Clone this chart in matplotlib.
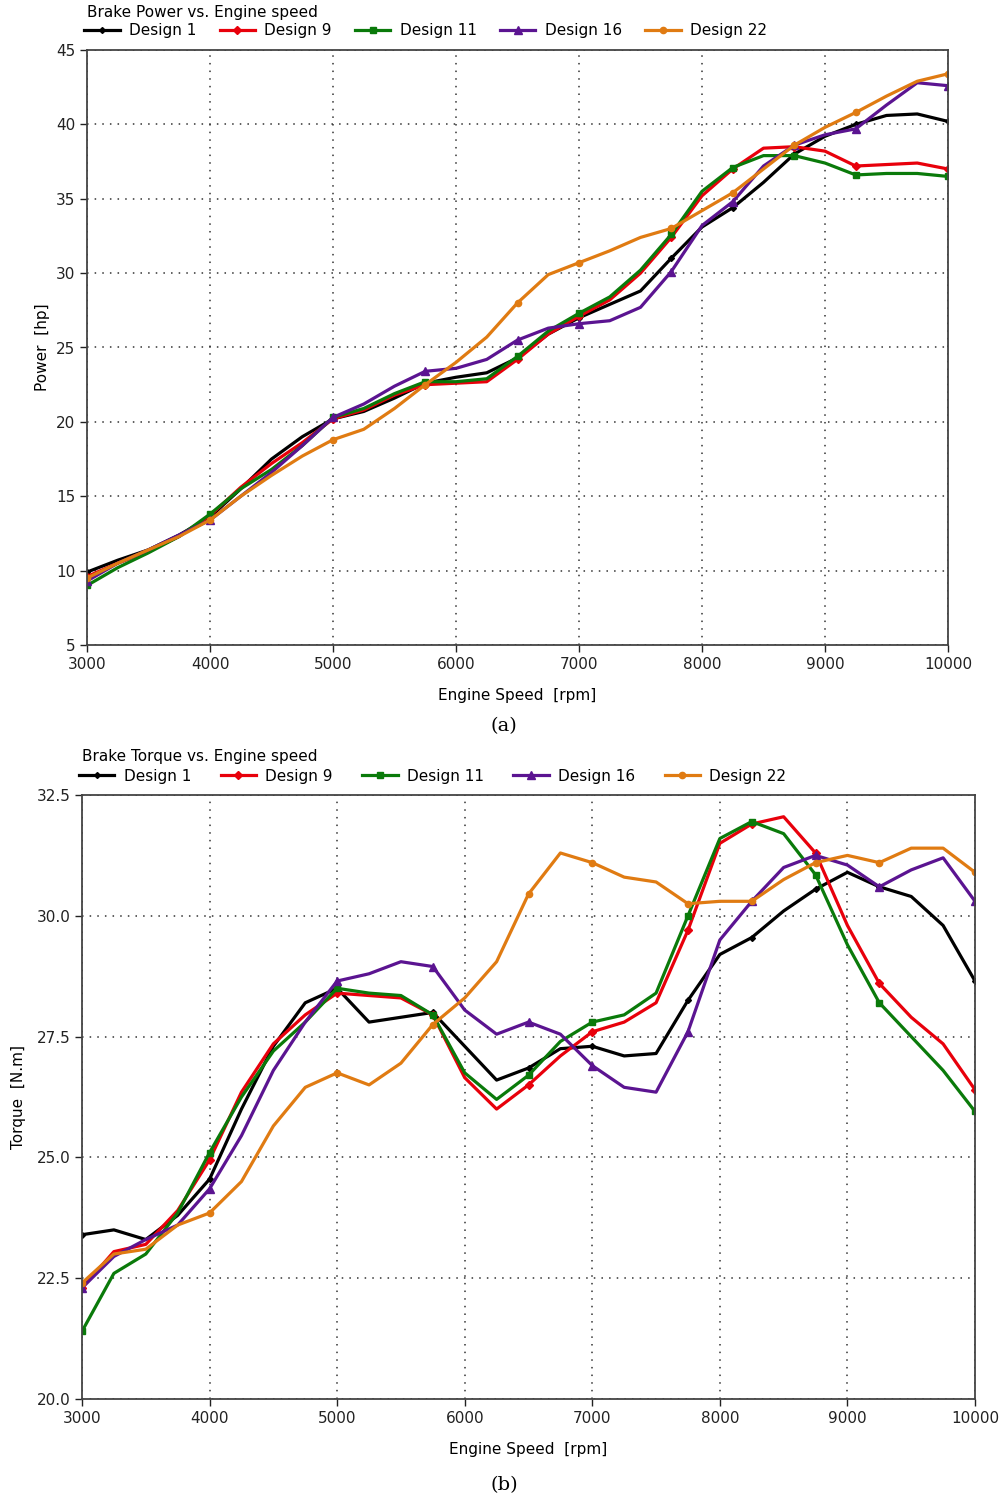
import numpy as np
import matplotlib
matplotlib.use('Agg')
import matplotlib.pyplot as plt

# engine speed samples (rpm)
rpm = np.arange(3000, 10001, 250)

# brake power [hp]
power_d1 = [9.9, 10.7, 11.4, 12.4, 13.6, 15.5, 17.5, 19.0, 20.2, 20.7, 21.6, 22.6, 23.0, 23.3, 24.3,
            25.9, 27.0, 27.9, 28.8, 31.0, 33.1, 34.4, 36.1, 38.0, 39.2, 40.0, 40.6, 40.7, 40.2]
power_d9 = [9.6, 10.5, 11.3, 12.3, 13.7, 15.6, 17.2, 18.6, 20.2, 20.8, 21.8, 22.5, 22.6, 22.7, 24.2,
            25.9, 27.1, 28.2, 30.0, 32.4, 35.2, 37.0, 38.4, 38.5, 38.2, 37.2, 37.3, 37.4, 37.0]
power_d11 = [9.0, 10.2, 11.2, 12.3, 13.8, 15.5, 16.8, 18.4, 20.3, 20.9, 21.9, 22.7, 22.7, 22.9, 24.4,
             26.1, 27.3, 28.4, 30.2, 32.6, 35.5, 37.1, 37.9, 37.9, 37.4, 36.6, 36.7, 36.7, 36.5]
power_d16 = [9.3, 10.5, 11.4, 12.4, 13.4, 15.0, 16.6, 18.4, 20.3, 21.2, 22.4, 23.4, 23.6, 24.2, 25.5,
             26.3, 26.6, 26.8, 27.7, 30.1, 33.2, 34.8, 37.2, 38.6, 39.3, 39.7, 41.3, 42.8, 42.6]
power_d22 = [9.5, 10.5, 11.4, 12.3, 13.4, 15.0, 16.4, 17.7, 18.8, 19.5, 20.9, 22.5, 24.0, 25.7, 28.0,
             29.9, 30.7, 31.5, 32.4, 33.0, 34.2, 35.4, 37.0, 38.6, 39.8, 40.8, 41.9, 42.9, 43.4]

# brake torque [N.m]
torque_d1 = [23.4, 23.5, 23.3, 23.8, 24.55, 26.0, 27.3, 28.2, 28.5, 27.8, 27.9, 28.0, 27.3, 26.6, 26.85,
             27.25, 27.3, 27.1, 27.15, 28.25, 29.2, 29.55, 30.1, 30.55, 30.9, 30.6, 30.4, 29.8, 28.65]
torque_d9 = [22.3, 23.05, 23.2, 23.9, 24.95, 26.35, 27.35, 27.95, 28.4, 28.35, 28.3, 27.95, 26.65, 26.0, 26.5,
             27.1, 27.6, 27.8, 28.2, 29.7, 31.5, 31.9, 32.05, 31.3, 29.8, 28.6, 27.9, 27.35, 26.4]
torque_d11 = [21.4, 22.6, 23.0, 23.85, 25.1, 26.25, 27.2, 27.8, 28.5, 28.4, 28.35, 27.95, 26.75, 26.2, 26.7,
              27.4, 27.8, 27.95, 28.4, 30.0, 31.6, 31.95, 31.7, 30.85, 29.4, 28.2, 27.5, 26.8, 25.95]
torque_d16 = [22.3, 22.95, 23.3, 23.6, 24.35, 25.45, 26.8, 27.8, 28.65, 28.8, 29.05, 28.95, 28.05, 27.55, 27.8,
              27.55, 26.9, 26.45, 26.35, 27.6, 29.5, 30.3, 31.0, 31.25, 31.05, 30.6, 30.95, 31.2, 30.3]
torque_d22 = [22.4, 23.0, 23.1, 23.6, 23.85, 24.5, 25.65, 26.45, 26.75, 26.5, 26.95, 27.75, 28.3, 29.05, 30.45,
              31.3, 31.1, 30.8, 30.7, 30.25, 30.3, 30.3, 30.75, 31.1, 31.25, 31.1, 31.4, 31.4, 30.9]

names = ['Design 1', 'Design 9', 'Design 11', 'Design 16', 'Design 22']
colors = ['#000000', '#e8000b', '#0a7a0a', '#5b1491', '#e07b12']
markers = ['D', 'D', 's', '^', 'o']
msizes = [3, 4.5, 5, 6, 4.5]
mark_idx = [0, 4, 8, 11, 14, 16, 19, 21, 23, 25, 28]

plt.rcParams['font.family'] = 'DejaVu Sans'
fig = plt.figure(figsize=(10.03, 14.99), dpi=100)

ax1 = fig.add_axes([87/1003, 1 - 645/1499, 861/1003, 595/1499])
ax2 = fig.add_axes([82/1003, 1 - 1399/1499, 893/1003, 604/1499])


def style(ax, ylim, yticks, ylab, fmt, lpad):
    ax.set_xlim(3000, 10000)
    ax.set_ylim(*ylim)
    ax.set_xticks(range(3000, 10001, 1000))
    ax.set_yticks(yticks)
    ax.set_yticklabels([fmt.format(v) for v in yticks])
    ax.tick_params(direction='out', length=5, width=1, labelsize=11, colors='#222222')
    ax.grid(True, color='#333333', linestyle=(0, (1, 4)), linewidth=1.1)
    for s in ax.spines.values():
        s.set_color('#444444')
        s.set_linewidth(1.3)
    ax.set_xlabel('Engine Speed  [rpm]', fontsize=11, labelpad=12)
    ax.set_ylabel(ylab, fontsize=11, labelpad=lpad)


series_p = [power_d1, power_d9, power_d11, power_d16, power_d22]
series_t = [torque_d1, torque_d9, torque_d11, torque_d16, torque_d22]

for ax, data in [(ax1, series_p), (ax2, series_t)]:
    for name, y, c, m, ms in zip(names, data, colors, markers, msizes):
        ax.plot(rpm, y, color=c, lw=2.3, marker=m, ms=ms, markevery=mark_idx,
                label=name, solid_joinstyle='round')

style(ax1, (5, 45), list(range(5, 46, 5)), 'Power  [hp]', '{:g}', 4)
style(ax2, (20, 32.5), [20.0, 22.5, 25.0, 27.5, 30.0, 32.5], 'Torque  [N.m]', '{:.1f}', 7.5)

for ax, title, cs, h in [(ax1, 'Brake Power vs. Engine speed', 1.55, 595),
                         (ax2, 'Brake Torque vs. Engine speed', 1.95, 604)]:
    leg = ax.legend(loc='center left', bbox_to_anchor=(-0.003, 1 + 19/h), ncol=5, frameon=False,
                    fontsize=11, handlelength=2.3, handletextpad=0.6, columnspacing=cs,
                    borderaxespad=0, borderpad=0, numpoints=1)
    ax.text(0.0, 1 + 38/h, title, transform=ax.transAxes, fontsize=11, ha='left', va='center')

fig.text(504/1003, 1 - 726/1499, '(a)', family='DejaVu Serif', fontsize=14, ha='center', va='center')
fig.text(504/1003, 1 - 1485/1499, '(b)', family='DejaVu Serif', fontsize=14, ha='center', va='center')

fig.savefig('out.png', dpi=100, facecolor='white')
